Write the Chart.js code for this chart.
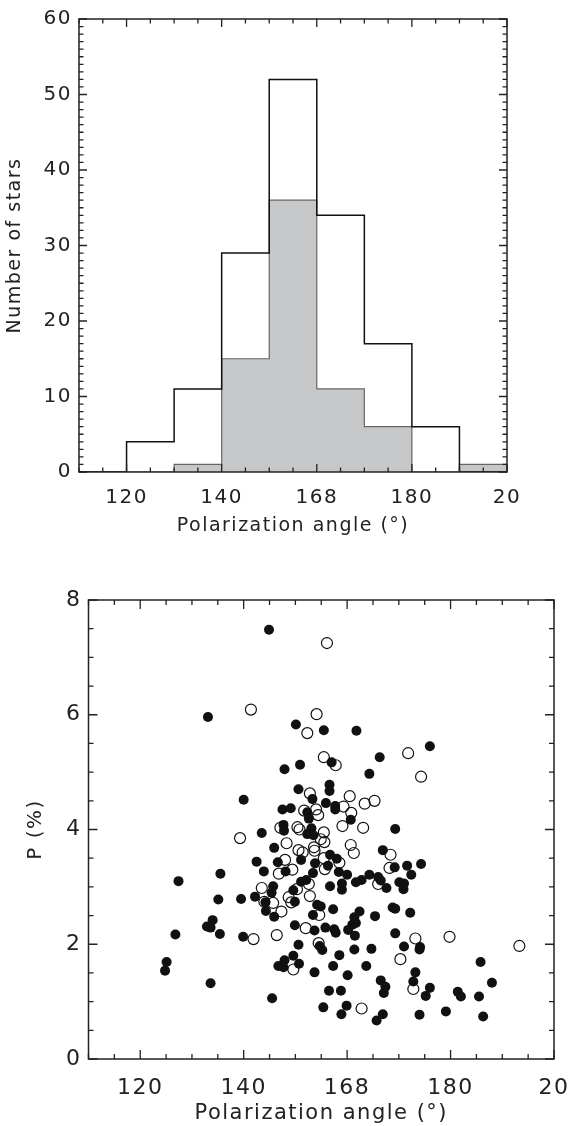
<!DOCTYPE html>
<html>
<head>
<meta charset="utf-8">
<script src="https://cdn.jsdelivr.net/npm/chart.js@4.4.0/dist/chart.umd.min.js"></script>
<style>
  html, body { margin: 0; padding: 0; background: #fff; }
  #hist { position: absolute; left: 0; top: 0; }
  #scatter { position: absolute; left: 0; top: 560px; }
</style>
</head>
<body>
<canvas id="hist" width="584" height="560"></canvas>
<canvas id="scatter" width="584" height="566"></canvas>
<script>
// histogram bins (polarization angle, deg)
const binEdges = [110, 120, 130, 140, 150, 160, 170, 180, 190, 200];
const allCounts = [0, 4, 11, 29, 52, 34, 17, 6, 0];
const subsetCounts = [0, 0, 1, 15, 36, 11, 6, 0, 1];

// shared x ticks
const xTickValues = [120, 140, 160, 180, 200];
const xTickLabels = ['120', '140', '168', '180', '20'];
const histYTicks = [0, 10, 20, 30, 40, 50, 60];
const scatYTicks = [0, 2, 4, 6, 8];

// scatter: filled dots
const filledAngle = [144.9,133.1,150.1,155.5,161.8,176.0,166.3,157.0,147.9,150.9,164.3,156.6,156.6,150.6,153.3,140.0,155.9,157.7,157.7,147.5,
  149.1,152.3,152.6,160.7,169.3,147.7,147.8,153.1,152.3,153.5,143.5,145.9,166.9,156.7,158.0,142.5,146.6,151.1,153.8,156.3,
  158.4,143.9,148.1,153.4,174.3,171.6,169.2,160.0,164.3,166.0,166.5,167.6,172.4,170.1,171.0,170.9,162.8,161.7,159.0,159.0,
  156.7,135.5,127.4,151.1,152.1,145.7,145.4,149.6,135.1,139.5,142.2,144.2,149.9,154.2,154.9,157.3,144.3,145.9,153.4,162.4,
  161.4,165.4,168.8,169.3,172.2,134.0,132.9,133.6,126.8,135.4,139.9,149.9,153.7,155.8,157.5,157.8,160.2,161.0,161.7,161.5,
  169.3,154.7,155.2,150.6,149.6,158.5,161.4,164.7,171.0,174.1,174.0,125.1,124.8,147.9,146.7,147.7,150.7,157.3,163.7,153.7,
  160.1,185.8,173.2,133.6,166.5,167.4,167.1,172.8,176.0,188.0,181.4,182.0,175.2,185.5,156.5,158.8,145.5,155.4,159.9,158.9,
  166.9,165.7,174.0,179.1,186.3];
const filledP = [7.48,5.96,5.83,5.73,5.72,5.45,5.26,5.17,5.05,5.13,4.97,4.78,4.67,4.70,4.53,4.52,4.46,4.41,4.35,4.35,
  4.37,4.30,4.19,4.17,4.01,4.08,3.98,4.02,3.92,3.90,3.94,3.68,3.64,3.56,3.49,3.44,3.43,3.47,3.41,3.37,
  3.26,3.27,3.27,3.24,3.40,3.37,3.34,3.21,3.21,3.17,3.11,2.98,3.21,3.08,3.06,2.96,3.12,3.08,3.06,2.95,
  3.01,3.23,3.10,3.09,3.12,3.01,2.90,2.94,2.78,2.79,2.83,2.73,2.74,2.69,2.66,2.61,2.58,2.48,2.51,2.57,
  2.47,2.49,2.64,2.62,2.55,2.42,2.31,2.29,2.17,2.18,2.13,2.33,2.24,2.29,2.26,2.20,2.25,2.34,2.37,2.15,
  2.19,1.97,1.90,1.99,1.80,1.81,1.91,1.92,1.96,1.95,1.91,1.69,1.54,1.72,1.62,1.60,1.66,1.62,1.62,1.51,
  1.46,1.69,1.51,1.32,1.37,1.26,1.15,1.35,1.24,1.33,1.17,1.09,1.10,1.09,1.19,1.19,1.06,0.90,0.93,0.78,
  0.78,0.67,0.77,0.83,0.74];

// scatter: open circles
const openAngle = [156.1,141.4,154.1,152.3,171.8,155.5,157.8,174.3,152.8,160.5,163.4,165.3,159.3,160.8,151.7,154.0,154.4,159.1,163.1,147.1,
  150.4,150.8,155.5,139.3,154.9,155.6,148.3,150.6,151.4,153.6,153.7,160.7,161.3,168.4,148.0,155.5,158.5,155.7,149.4,146.8,
  168.2,166.0,152.6,143.5,150.3,152.8,144.0,145.7,148.7,149.2,154.6,147.3,141.9,146.4,152.0,173.2,179.8,193.3,154.5,170.3,
  149.6,172.8,162.8];
const openP = [7.25,6.09,6.01,5.68,5.33,5.26,5.12,4.92,4.63,4.58,4.45,4.50,4.40,4.29,4.33,4.35,4.25,4.06,4.03,4.03,
  4.04,4.00,3.95,3.85,3.83,3.78,3.76,3.64,3.60,3.69,3.63,3.73,3.59,3.56,3.47,3.50,3.42,3.31,3.30,3.23,
  3.33,3.05,3.05,2.98,2.96,2.84,2.74,2.72,2.82,2.73,2.51,2.57,2.09,2.16,2.28,2.10,2.13,1.97,2.02,1.74,
  1.56,1.22,0.88];

const ink = '#222';
const family = '"DejaVu Sans", sans-serif';

// wider text, closer to the original's round lettering
const spacing = {
  id: 'spacing',
  beforeDraw(chart) { chart.ctx.letterSpacing = '1.5px'; }
};

// IDL-style box with inward ticks on all four sides
const frame = {
  id: 'frame',
  afterDatasetsDraw(chart, args, o) {
    const {ctx, chartArea: a} = chart;
    const x = chart.scales.x, y = chart.scales.y;
    ctx.save();
    ctx.strokeStyle = ink;
    ctx.lineWidth = 1.5;
    ctx.strokeRect(a.left, a.top, a.right - a.left, a.bottom - a.top);
    ctx.beginPath();
    for (let v = x.min; v <= x.max + 1e-6; v += o.xMinor) {
      const p = x.getPixelForValue(v);
      const len = Math.abs(v / o.xMajor - Math.round(v / o.xMajor)) < 1e-6 ? o.major : o.minor;
      ctx.moveTo(p, a.bottom); ctx.lineTo(p, a.bottom - len);
      ctx.moveTo(p, a.top); ctx.lineTo(p, a.top + len);
    }
    for (let v = y.min; v <= y.max + 1e-6; v += o.yMinor) {
      const p = y.getPixelForValue(v);
      const len = Math.abs(v / o.yMajor - Math.round(v / o.yMajor)) < 1e-6 ? o.major : o.minor;
      ctx.moveTo(a.left, p); ctx.lineTo(a.left + len, p);
      ctx.moveTo(a.right, p); ctx.lineTo(a.right - len, p);
    }
    ctx.lineWidth = 1.3;
    ctx.stroke();
    ctx.restore();
  }
};

function xScale(h, fontSize, pad, titleSize, titleBottom) {
  return {
    type: 'linear', min: 110, max: 200,
    afterBuildTicks: s => { s.ticks = xTickValues.map(v => ({value: v})); },
    afterFit: s => { s.height = h; },
    grid: {display: false, drawTicks: false},
    border: {display: false},
    ticks: {
      callback: (v, i) => xTickLabels[i],
      font: {size: fontSize, family}, color: ink, padding: pad,
      maxRotation: 0, autoSkip: false
    },
    title: {display: true, text: 'Polarization angle (°)', color: ink,
      font: {size: titleSize, family}, padding: {top: 0, bottom: titleBottom}}
  };
}

function yScale(w, max, vals, fontSize, title, titleSize, titleTop) {
  return {
    type: 'linear', min: 0, max: max,
    afterBuildTicks: s => { s.ticks = vals.map(v => ({value: v})); },
    afterFit: s => { s.width = w; },
    grid: {display: false, drawTicks: false},
    border: {display: false},
    ticks: {font: {size: fontSize, family}, color: ink, padding: 7},
    title: {display: true, text: title, color: ink,
      font: {size: titleSize, family}, padding: {top: titleTop, bottom: 0}}
  };
}

const common = {
  responsive: false,
  animation: false,
  plugins: {legend: {display: false}, tooltip: {enabled: false}}
};

const histPoints = counts => binEdges.map((e, i) => ({x: e, y: counts[Math.min(i, counts.length - 1)]}));

new Chart(document.getElementById('hist').getContext('2d'), {
  type: 'line',
  data: {
    datasets: [{
      label: 'all',
      data: histPoints(allCounts),
      stepped: 'before',
      borderColor: '#111',
      borderWidth: 1.5,
      pointRadius: 0,
      fill: false
    }, {
      label: 'subset',
      data: histPoints(subsetCounts),
      stepped: 'before',
      borderColor: '#666',
      borderWidth: 1.2,
      backgroundColor: '#c6c7c9',
      pointRadius: 0,
      fill: 'origin'
    }]
  },
  options: {
    ...common,
    layout: {padding: {top: 13, right: 77, left: 0, bottom: 0}},
    scales: {
      x: xScale(88, 20, 14, 19, 23),
      y: yScale(79, 60, histYTicks, 20, 'Number of stars', 19, 4)
    },
    plugins: {...common.plugins,
      frame: {xMinor: 5, xMajor: 20, yMinor: 1, yMajor: 10, major: 8, minor: 4.5}}
  },
  plugins: [spacing, frame]
});

new Chart(document.getElementById('scatter').getContext('2d'), {
  type: 'scatter',
  data: {
    datasets: [{
      label: 'open',
      data: openAngle.map((a, i) => ({x: a, y: openP[i]})),
      pointRadius: 5.5,
      pointBorderWidth: 1.2,
      borderColor: '#111',
      backgroundColor: 'rgba(0,0,0,0)'
    }, {
      label: 'filled',
      data: filledAngle.map((a, i) => ({x: a, y: filledP[i]})),
      pointRadius: 5,
      pointBorderWidth: 0,
      borderColor: '#111',
      backgroundColor: '#111'
    }]
  },
  options: {
    ...common,
    layout: {padding: {top: 40, right: 18, left: 0, bottom: 0}},
    scales: {
      x: xScale(67, 22, 16, 21, 0),
      y: yScale(88.5, 8, scatYTicks, 22, 'P (%)', 20, 24)
    },
    plugins: {...common.plugins,
      frame: {xMinor: 5, xMajor: 20, yMinor: 0.5, yMajor: 2, major: 9, minor: 5}}
  },
  plugins: [spacing, frame]
});
</script>
</body>
</html>
